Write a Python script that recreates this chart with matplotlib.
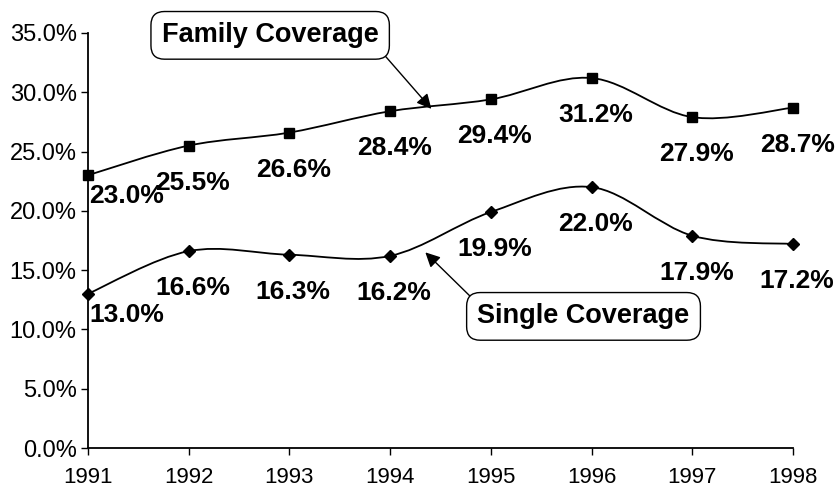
import numpy as np
from matplotlib import pyplot as plt
from matplotlib.path import Path
from matplotlib.patches import PathPatch
from matplotlib.ticker import FuncFormatter

plt.rcParams['font.family'] = ['Liberation Sans', 'DejaVu Sans']

years = [1991, 1992, 1993, 1994, 1995, 1996, 1997, 1998]
family = [23.0, 25.5, 26.6, 28.4, 29.4, 31.2, 27.9, 28.7]
single = [13.0, 16.6, 16.3, 16.2, 19.9, 22.0, 17.9, 17.2]


def smooth_path(xs, ys):
    # excel style smoothed line: bezier segments with catmull-rom control points
    p = np.column_stack([xs, ys]).astype(float)
    ext = np.vstack([p[0], p, p[-1]])
    verts = [p[0]]
    codes = [Path.MOVETO]
    for i in range(len(p) - 1):
        p0, p1, p2, p3 = ext[i], ext[i + 1], ext[i + 2], ext[i + 3]
        c1 = p1 + (p2 - p0) / 6.0
        c2 = p2 - (p3 - p1) / 6.0
        verts += [c1, c2, p2]
        codes += [Path.CURVE4] * 3
    return Path(verts, codes)


fig = plt.figure(figsize=(8.36, 4.9), dpi=100)
ax = fig.add_axes([0.105, 0.0857, 0.8437, 0.847])

for vals, mk, ms in [(family, 's', 7), (single, 'D', 6)]:
    ax.add_patch(PathPatch(smooth_path(years, vals), fill=False, lw=1.3,
                           edgecolor='black', clip_on=False))
    ax.plot(years, vals, linestyle='none', marker=mk, ms=ms, color='black',
            clip_on=False, zorder=3)

# data labels, below-right of each point
for vals in [family, single]:
    for i, (x, v) in enumerate(zip(years, vals)):
        off = (39, -21) if i == 0 else (4, -37)
        ax.annotate('{:.1f}%'.format(v), (x, v), xytext=off,
                    textcoords='offset pixels', ha='center', va='center',
                    fontsize=19, fontweight='bold')

box = dict(boxstyle='round,pad=0.4,rounding_size=0.5', fc='white', ec='black', lw=1)
ax.annotate('Family Coverage', xy=(1994.41, 28.6), xytext=(1992.81, 34.8),
            ha='center', va='center', fontsize=19.5, fontweight='bold', bbox=box,
            arrowprops=dict(arrowstyle='-|>', color='black', lw=1,
                            mutation_scale=22, shrinkA=0, shrinkB=0,
                            relpos=(1.0, 0.0)),
            annotation_clip=False)
ax.annotate('Single Coverage', xy=(1994.35, 16.5), xytext=(1995.92, 11.1),
            ha='center', va='center', fontsize=19.5, fontweight='bold', bbox=box,
            arrowprops=dict(arrowstyle='-|>', color='black', lw=1,
                            mutation_scale=22, shrinkA=0, shrinkB=0,
                            relpos=(0.0, 1.0)),
            annotation_clip=False)

ax.set_xlim(1991, 1998)
ax.set_ylim(0, 35)
ax.set_xticks(years)
ax.set_yticks(np.arange(0, 36, 5))
ax.yaxis.set_major_formatter(FuncFormatter(lambda v, p: '{:.1f}%'.format(v)))
ax.spines['top'].set_visible(False)
ax.spines['right'].set_visible(False)
ax.spines['left'].set_linewidth(1.3)
ax.spines['bottom'].set_linewidth(1.3)
ax.tick_params(axis='both', direction='out', length=5, width=1)
ax.tick_params(axis='x', pad=9, labelsize=16)
ax.tick_params(axis='y', pad=3, labelsize=17)

fig.savefig('out.png', dpi=100)
